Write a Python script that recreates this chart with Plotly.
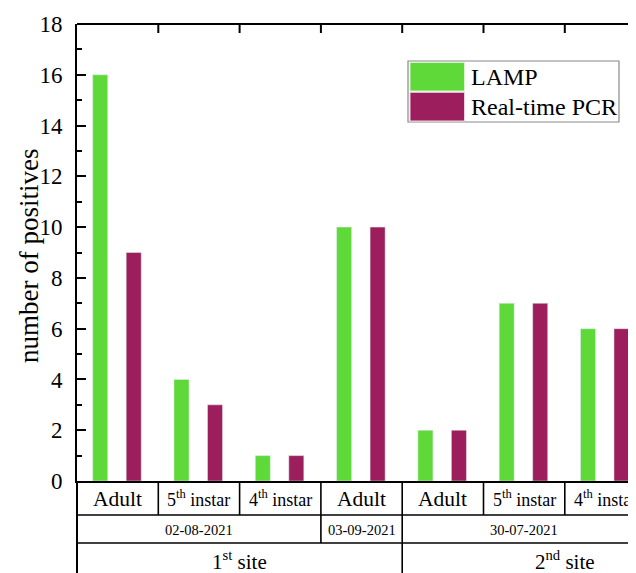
import plotly.graph_objects as go

categories = ["Adult", "5<sup>th</sup> instar", "4<sup>th</sup> instar", "Adult",
              "Adult", "5<sup>th</sup> instar", "4<sup>th</sup> instar"]
category_font = [21.5, 18, 18, 21.5, 21.5, 18, 18]
lamp = [16, 4, 1, 10, 2, 7, 6]
pcr = [9, 3, 1, 10, 2, 7, 6]
dates = ["02-08-2021", "03-09-2021", "30-07-2021"]
date_spans = [(0, 2), (3, 3), (4, 6)]
sites = ["1<sup>st</sup> site", "2<sup>nd</sup> site"]
site_spans = [(0, 3), (4, 7)]
y_ticks = list(range(0, 19, 2))

GREEN = "#5fd93a"
MAROON = "#9c1e5c"
FONT = "Liberation Serif"

# page geometry: the page body adds an 8px offset
OFF = 8
WIN_W, WIN_H = 636, 573
PL, PT, PB, PR = 77, 24, 481, 636   # plot area in window pixels
W, H = WIN_W - OFF, WIN_H - OFF
L, T = PL - OFF, PT - OFF
R = W - (PR - OFF)
B = H - (PB - OFF)
PW, PH = PR - PL, PB - PT
cat_w = 81.3
x_min = -0.5
x_max = x_min + PW / cat_w

def px_x(X):
    return (X - PL) / PW

def px_y(Y):
    return (PB - Y) / PH

xs = list(range(len(categories)))

fig = go.Figure()
fig.add_trace(go.Bar(x=xs, y=lamp, name="LAMP", marker_color=GREEN,
                     width=0.185, offset=-0.307, showlegend=False))
fig.add_trace(go.Bar(x=xs, y=pcr, name="Real-time PCR", marker_color=MAROON,
                     width=0.185, offset=0.105, showlegend=False))

shapes = []
line = dict(color="black", width=1.6)
# top axis line and top ticks at category boundaries
shapes.append(dict(type="line", xref="paper", yref="paper", x0=0, x1=1, y0=1, y1=1,
                   line=dict(color="black", width=2)))
for k in range(len(categories)):
    b = k + 0.5
    shapes.append(dict(type="line", xref="x", yref="paper", x0=b, x1=b,
                       y0=1, y1=1 - 9 / PH, line=dict(color="black", width=2)))

# table below the axis
y_row1 = px_y(515)
y_row2 = px_y(543)
y_end = px_y(WIN_H + 10)
shapes.append(dict(type="line", xref="paper", yref="paper", x0=0, x1=1,
                   y0=y_row1, y1=y_row1, line=line))
shapes.append(dict(type="line", xref="paper", yref="paper", x0=0, x1=1,
                   y0=y_row2, y1=y_row2, line=line))
shapes.append(dict(type="line", xref="paper", yref="paper", x0=0, x1=0,
                   y0=0, y1=y_end, line=dict(color="black", width=2)))
for k in range(len(categories)):
    b = k + 0.5
    shapes.append(dict(type="line", xref="x", yref="paper", x0=b, x1=b,
                       y0=0, y1=y_row1, line=line))
for s, e in date_spans[:-1]:
    b = e + 0.5
    shapes.append(dict(type="line", xref="x", yref="paper", x0=b, x1=b,
                       y0=y_row1, y1=y_row2, line=line))
for s, e in site_spans[:-1]:
    b = e + 0.5
    shapes.append(dict(type="line", xref="x", yref="paper", x0=b, x1=b,
                       y0=y_row2, y1=y_end, line=line))

annotations = []
for k, (c, fs) in enumerate(zip(categories, category_font)):
    annotations.append(dict(x=k, y=px_y(498.5), xref="x", yref="paper", text=c,
                            showarrow=False, xanchor="center", yanchor="middle",
                            font=dict(family=FONT, size=fs, color="black")))
for d, (s, e) in zip(dates, date_spans):
    annotations.append(dict(x=(s + e) / 2, y=px_y(529.5), xref="x", yref="paper", text=d,
                            showarrow=False, xanchor="center", yanchor="middle",
                            font=dict(family=FONT, size=14.5, color="black")))
for st, (s, e) in zip(sites, site_spans):
    annotations.append(dict(x=(s + e) / 2, y=px_y(560), xref="x", yref="paper", text=st,
                            showarrow=False, xanchor="center", yanchor="middle",
                            font=dict(family=FONT, size=21, color="black")))
# y title
annotations.append(dict(x=px_x(29), y=px_y(256), xref="paper", yref="paper",
                        text="number of positives", textangle=-90, showarrow=False,
                        xanchor="center", yanchor="middle",
                        font=dict(family=FONT, size=27, color="black")))

# manual legend
shapes.append(dict(type="rect", xref="paper", yref="paper",
                   x0=px_x(408), x1=px_x(619), y0=px_y(122), y1=px_y(61),
                   line=dict(color="#8a8a8a", width=1.2), fillcolor="white"))
shapes.append(dict(type="rect", xref="paper", yref="paper",
                   x0=px_x(410), x1=px_x(464.5), y0=px_y(91), y1=px_y(62.5),
                   line=dict(color="#d8f5cc", width=1), fillcolor=GREEN))
shapes.append(dict(type="rect", xref="paper", yref="paper",
                   x0=px_x(410), x1=px_x(464.5), y0=px_y(121), y1=px_y(92.3),
                   line=dict(color="#f0d0e0", width=1), fillcolor=MAROON))
for name, yc in [("LAMP", 77), ("Real-time PCR", 107)]:
    annotations.append(dict(x=px_x(469), y=px_y(yc), xref="paper", yref="paper",
                            text=name, showarrow=False, xanchor="left", yanchor="middle",
                            font=dict(family=FONT, size=24, color="black")))

fig.update_layout(
    width=W, height=H,
    margin=dict(l=L, r=R, t=T, b=B, pad=0),
    paper_bgcolor="white", plot_bgcolor="white",
    barmode="overlay",
    shapes=shapes, annotations=annotations,
    xaxis=dict(range=[x_min, x_max], showgrid=False, zeroline=False,
               showticklabels=False, ticks="", showline=True,
               linecolor="black", linewidth=2),
    yaxis=dict(range=[0, 18], tickvals=y_ticks, showgrid=False, zeroline=False,
               showline=True, linecolor="black", linewidth=2,
               ticks="inside", ticklen=9, tickwidth=2, tickcolor="black",
               minor=dict(ticks="inside", ticklen=5, tickwidth=2, dtick=1,
                          tickcolor="black"),
               tickfont=dict(family=FONT, size=23, color="black"),
               ticklabelstandoff=8),
)

fig.write_html("out.html")
